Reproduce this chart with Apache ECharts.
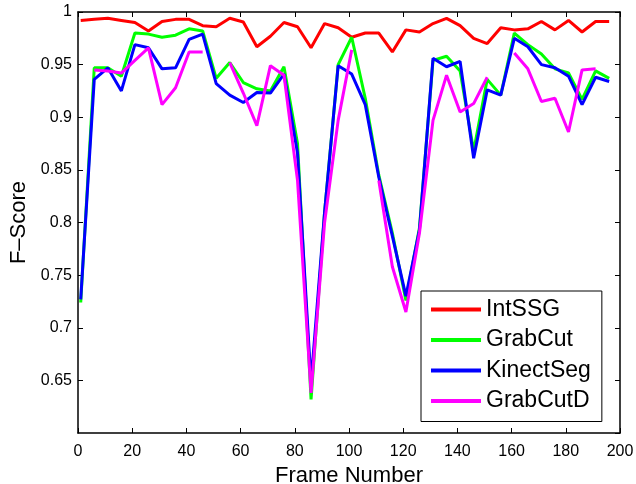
<!DOCTYPE html>
<html>
<head>
<meta charset="utf-8">
<script src="https://cdn.jsdelivr.net/npm/echarts@6/dist/echarts.min.js"></script>
<style>
  html, body { margin: 0; padding: 0; background: #fff; }
  #chart { width: 636px; height: 484px; }
</style>
</head>
<body>
<div id="chart"></div>
<script>
'use strict';

// frame numbers (one sample every 5 frames)
var frames = [1, 6, 11, 16, 21, 26, 31, 36, 41, 46,
    51, 56, 61, 66, 71, 76, 81, 86, 91, 96,
    101, 106, 111, 116, 121, 126, 131, 136, 141, 146,
    151, 156, 161, 166, 171, 176, 181, 186, 191, 196];

var intSSG = [0.992, 0.993, 0.994, 0.992, 0.990, 0.982, 0.991, 0.993, 0.993, 0.987,
    0.986, 0.994, 0.9905, 0.967, 0.977, 0.990, 0.986, 0.966, 0.989, 0.985,
    0.976, 0.980, 0.980, 0.962, 0.983, 0.981, 0.989, 0.994, 0.987, 0.975,
    0.970, 0.985, 0.983, 0.984, 0.991, 0.983, 0.992, 0.981, 0.991, 0.991];

var grabCut = [0.724, 0.947, 0.947, 0.939, 0.980, 0.979, 0.976, 0.978, 0.984, 0.982,
    0.937, 0.952, 0.933, 0.927, 0.925, 0.948, 0.875, 0.632, 0.810, 0.950,
    0.976, 0.918, 0.845, 0.790, 0.726, 0.795, 0.954, 0.958, 0.944, 0.868,
    0.936, 0.921, 0.980, 0.969, 0.960, 0.946, 0.942, 0.917, 0.944, 0.937];

var kinectSeg = [0.727, 0.936, 0.947, 0.925, 0.969, 0.966, 0.946, 0.947, 0.974, 0.979,
    0.932, 0.921, 0.914, 0.9235, 0.923, 0.941, 0.866, 0.648, 0.810, 0.949,
    0.941, 0.912, 0.843, 0.787, 0.730, 0.793, 0.956, 0.948, 0.953, 0.861,
    0.926, 0.921, 0.975, 0.967, 0.950, 0.947, 0.939, 0.912, 0.938, 0.934];

// null = frame not available for this method
var grabCutD = [null, 0.945, 0.944, 0.942, 0.954, 0.966, 0.912, 0.928, 0.962, 0.962,
    null, 0.952, 0.923, 0.892, 0.949, 0.940, 0.840, 0.638, 0.800, 0.897,
    0.964, null, 0.840, 0.758, 0.715, 0.790, 0.897, 0.940, 0.905, 0.913,
    0.938, null, 0.961, 0.946, 0.915, 0.918, 0.886, 0.945, 0.946, null];

var seriesNames = ['IntSSG', 'GrabCut', 'KinectSeg', 'GrabCutD'];
var seriesColors = ['#ff0000', '#00ff00', '#0000ff', '#ff00ff'];
var seriesValues = [intSSG, grabCut, kinectSeg, grabCutD];

var FONT = "'Liberation Sans', Arial, Helvetica, sans-serif";

function pairs(vals) {
    var out = [];
    for (var i = 0; i < frames.length; i++) {
        out.push([frames[i], vals[i] == null ? '-' : vals[i]]);
    }
    return out;
}

function makeAxis(pos, isX, showLabels) {
    var ax = {
        type: 'value',
        position: pos,
        min: isX ? 0 : 0.6,
        max: isX ? 200 : 1,
        interval: isX ? 20 : 0.05,
        splitLine: { show: false },
        axisLine: { show: true, onZero: false, lineStyle: { color: '#000', width: 1.5 } },
        axisTick: { show: true, inside: true, length: 5, lineStyle: { color: '#000', width: 1 } },
        axisLabel: {
            show: showLabels,
            color: '#000',
            fontFamily: FONT,
            fontSize: 16,
            margin: isX ? 11 : 6,
            showMinLabel: isX ? true : false
        }
    };
    if (!isX) {
        ax.axisLabel.formatter = function (v) {
            return String(parseFloat(v.toFixed(2)));
        };
    }
    return ax;
}

var xMain = makeAxis('bottom', true, true);
xMain.name = 'Frame Number';
xMain.nameLocation = 'middle';
xMain.nameGap = 21;
xMain.nameTextStyle = { color: '#000', fontFamily: FONT, fontSize: 22 };

var yMain = makeAxis('left', false, true);
yMain.name = 'F\u2013Score';
yMain.nameLocation = 'middle';
yMain.nameGap = 47;
yMain.nameTextStyle = { color: '#000', fontFamily: FONT, fontSize: 22 };

var series = [];
for (var i = 0; i < seriesNames.length; i++) {
    series.push({
        name: seriesNames[i],
        type: 'line',
        xAxisIndex: 0,
        yAxisIndex: 0,
        data: pairs(seriesValues[i]),
        symbol: 'none',
        connectNulls: false,
        lineStyle: { color: seriesColors[i], width: 3 },
        itemStyle: { color: seriesColors[i] }
    });
}

var chart = echarts.init(document.getElementById('chart'));
chart.setOption({
    animation: false,
    backgroundColor: '#fff',
    grid: { left: 78, right: 16, top: 12, bottom: 51, outerBoundsMode: 'none' },
    xAxis: [xMain, makeAxis('top', true, false)],
    yAxis: [yMain, makeAxis('right', false, false)],
    legend: {
        data: seriesNames,
        orient: 'vertical',
        left: 421,
        top: 291,
        icon: 'rect',
        itemWidth: 50,
        itemHeight: 4,
        itemGap: 7.5,
        padding: [7, 11, 9, 10],
        backgroundColor: '#fff',
        borderColor: '#000',
        borderWidth: 1,
        textStyle: { color: '#000', fontFamily: FONT, fontSize: 23, padding: [0, 0, 0, 0] }
    },
    series: series
});
</script>
</body>
</html>
